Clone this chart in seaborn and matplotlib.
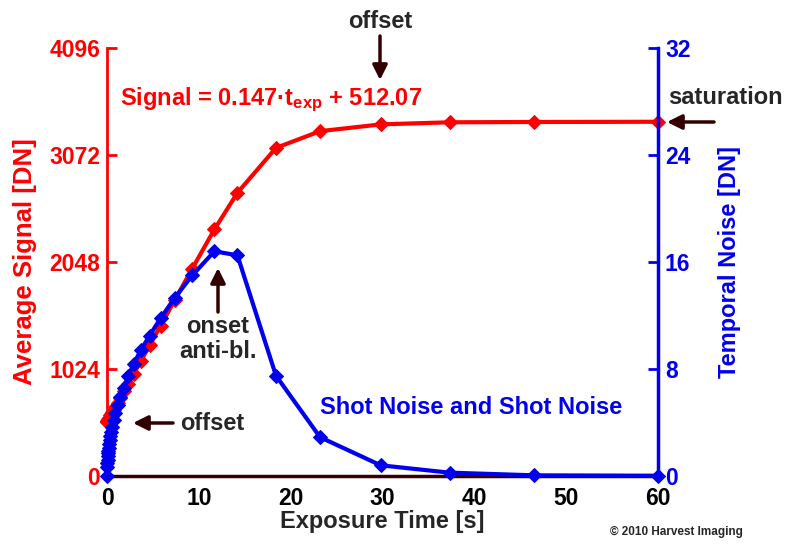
import matplotlib
matplotlib.use("Agg")
import matplotlib.pyplot as plt
from matplotlib.patches import FancyArrowPatch
import seaborn as sns
import pandas as pd

exposure_s = [0.0, 0.02, 0.04, 0.06, 0.09, 0.12, 0.15, 0.19, 0.24, 0.3, 0.37, 0.46,
              0.58, 0.73, 0.92, 1.16, 1.46, 1.84, 2.32, 2.92, 3.68, 4.64, 5.84, 7.36,
              9.28, 11.7, 14.2, 18.4, 23.2, 29.8, 37.3, 46.5, 60.0]
avg_signal = [520, 525, 528, 531, 536, 540, 545, 551, 559, 568, 579, 593,
              612, 635, 665, 703, 750, 810, 885, 980, 1100, 1250, 1440, 1680,
              1985, 2360, 2710, 3140, 3300, 3365, 3385, 3388, 3390]
temporal_noise = [0.0, 0.7, 1.0, 1.2, 1.5, 1.7, 1.9, 2.1, 2.4, 2.7, 3.0, 3.3,
                  3.7, 4.2, 4.7, 5.3, 5.9, 6.6, 7.5, 8.4, 9.4, 10.5, 11.8, 13.3,
                  15.0, 16.8, 16.5, 7.5, 2.9, 0.8, 0.25, 0.05, 0.02]

x_ticks = [0, 10, 20, 30, 40, 50, 60]
signal_ticks = [0, 1024, 2048, 3072, 4096]
noise_ticks = [0, 8, 16, 24, 32]

df = pd.DataFrame({"t": exposure_s, "signal": avg_signal, "noise": temporal_noise})

sns.set_style("white")
plt.rcParams["font.family"] = ["Liberation Sans", "DejaVu Sans"]
plt.rcParams["font.weight"] = "bold"
plt.rcParams["mathtext.fontset"] = "custom"
plt.rcParams["mathtext.rm"] = "Liberation Sans:bold"
plt.rcParams["mathtext.default"] = "rm"

RED = "#ff0000"
BLUE = "#0000ee"
DARK = "#330000"
TXT = 17

fig = plt.figure(figsize=(8.01, 5.45), dpi=100)
ax = fig.add_axes([107 / 801, 1 - 476 / 545, (658 - 107) / 801, (476 - 48) / 545])
ax2 = ax.twinx()

sns.lineplot(data=df, x="t", y="signal", ax=ax, color=RED, marker="D",
             markersize=7, markeredgecolor=RED, linewidth=3, clip_on=False)
sns.lineplot(data=df, x="t", y="noise", ax=ax2, color=BLUE, marker="D",
             markersize=7, markeredgecolor=BLUE, linewidth=3, clip_on=False)

ax.set_xlim(0, 60)
ax.set_ylim(0, 4096)
ax2.set_ylim(0, 32)
ax.set_xticks(x_ticks)
ax.set_yticks(signal_ticks)
ax2.set_yticks(noise_ticks)

for a in (ax, ax2):
    a.spines["top"].set_visible(False)
    a.grid(False)
ax.spines["right"].set_visible(False)
ax2.spines["left"].set_visible(False)
ax2.spines["bottom"].set_visible(False)
ax.spines["left"].set_color(RED)
ax.spines["left"].set_linewidth(2)
ax2.spines["right"].set_color(BLUE)
ax2.spines["right"].set_linewidth(2.5)
ax.spines["bottom"].set_color(DARK)
ax.spines["bottom"].set_linewidth(2.5)

ax.tick_params(axis="y", direction="in", length=7, width=2, color=RED,
               labelcolor=RED, labelsize=16.5, pad=5)
ax.tick_params(axis="x", direction="in", length=7, width=2, color=DARK,
               labelcolor="black", labelsize=16.5, pad=8)
ax2.tick_params(axis="y", direction="in", length=7, width=2, color=BLUE,
                labelcolor=BLUE, labelsize=16.5, pad=5)
for lab in ax.get_xticklabels() + ax.get_yticklabels() + ax2.get_yticklabels():
    lab.set_fontweight("bold")

ax.set_xlabel("Exposure Time [s]", fontsize=17, fontweight="bold", labelpad=0)
ax.set_ylabel("Average Signal [DN]", fontsize=18.5, fontweight="bold", color=RED, labelpad=9)
ax2.set_ylabel("Temporal Noise [DN]", fontsize=17, fontweight="bold", color=BLUE, labelpad=20)


def fp(x, y):
    return (x / 801, 1 - y / 545)


arrow = dict(arrowstyle="-|>", color=DARK, lw=2.5, mutation_scale=22, shrinkA=0, shrinkB=0)


def add_arrow(tail, tip):
    fig.add_artist(FancyArrowPatch(fp(*tail), fp(*tip), transform=fig.transFigure, **arrow))


fig.text(*fp(380, 22), "offset", fontsize=TXT, fontweight="bold", ha="center", va="center")
add_arrow((380, 36), (380, 80))

fig.text(*fp(120, 100), "Signal = 0.147·t$_{exp}$ + 512.07", fontsize=TXT,
         fontweight="bold", color=RED, ha="left", va="center")

fig.text(*fp(668, 98), "saturation", fontsize=TXT, fontweight="bold", ha="left", va="center")
add_arrow((714, 122), (667, 122))

fig.text(*fp(218, 339), "onset\nanti-bl.", fontsize=TXT, fontweight="bold",
         ha="center", va="center", linespacing=1.15)
add_arrow((218, 312), (218, 268))

fig.text(*fp(180, 424), "offset", fontsize=TXT, fontweight="bold", ha="left", va="center")
add_arrow((173, 423), (133, 423))

fig.text(*fp(320, 408), "Shot Noise and Shot Noise", fontsize=TXT, fontweight="bold",
         color=BLUE, ha="left", va="center")

fig.text(*fp(610, 532), "© 2010 Harvest Imaging", fontsize=8.5, fontweight="bold",
         ha="left", va="center")

fig.savefig("out.png", dpi=100)
